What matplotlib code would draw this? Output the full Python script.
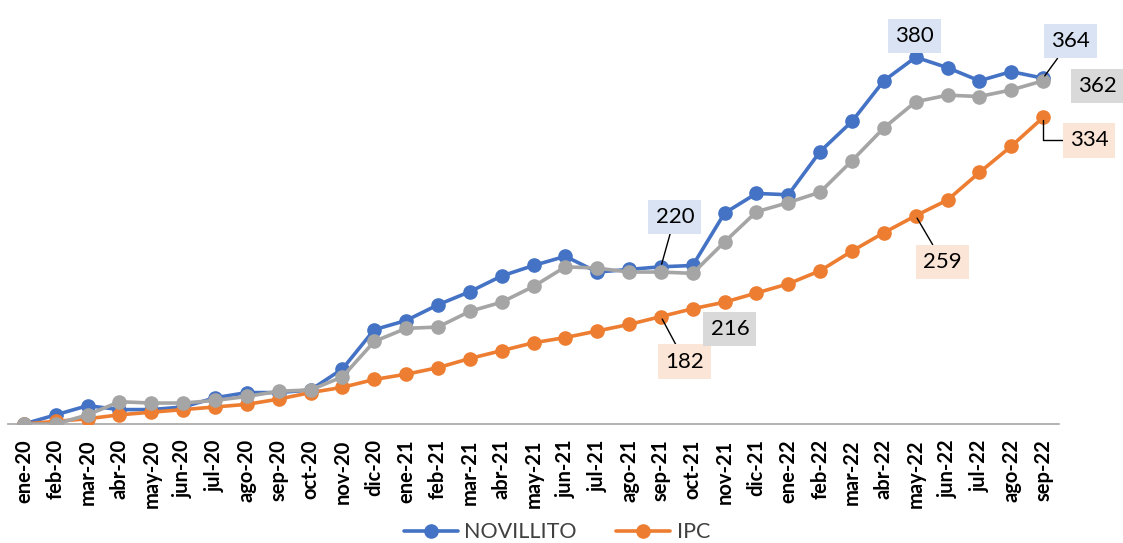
import matplotlib
matplotlib.use("Agg")
import matplotlib.pyplot as plt

plt.rcParams['font.family'] = ['Lato', 'DejaVu Sans']

meses = ["ene-20", "feb-20", "mar-20", "abr-20", "may-20", "jun-20", "jul-20", "ago-20",
         "sep-20", "oct-20", "nov-20", "dic-20", "ene-21", "feb-21", "mar-21", "abr-21",
         "may-21", "jun-21", "jul-21", "ago-21", "sep-21", "oct-21", "nov-21", "dic-21",
         "ene-22", "feb-22", "mar-22", "abr-22", "may-22", "jun-22", "jul-22", "ago-22",
         "sep-22"]

novillito = [100, 107, 114, 111, 111, 113, 120, 124, 124, 126, 142, 172, 179, 191, 201, 213,
             221, 228, 216, 218, 220, 221, 261, 276, 275, 308, 331, 362, 380, 372, 362, 369,
             364]
ipc = [100, 102, 104, 107, 109, 111, 113, 115, 119, 124, 128, 134, 138, 143, 150, 156,
       162, 166, 171, 176, 182, 188, 193, 200, 207, 217, 232, 246, 259, 271, 292, 312,
       334]
gris = [100, 100, 107, 117, 116, 116, 118, 121, 125, 126, 136, 163, 173, 174, 186, 193,
        205, 220, 219, 216, 216, 215, 239, 262, 269, 277, 301, 326, 346, 351, 350, 355,
        362]

C_BLUE = "#4472C4"
C_ORANGE = "#ED7D31"
C_GRAY = "#A5A5A5"

fig = plt.figure(figsize=(11.23, 5.43), dpi=100)
ax = fig.add_axes([8 / 1123, (543 - 424) / 543, (1059 - 8) / 1123, (424 - 31) / 543])

x = list(range(len(meses)))
kw = dict(linewidth=2.6, marker='o', markersize=9.5, solid_capstyle='round',
          solid_joinstyle='round')
l1, = ax.plot(x, novillito, color=C_BLUE, label="NOVILLITO", zorder=3, **kw)
l2, = ax.plot(x, ipc, color=C_ORANGE, label="IPC", zorder=4, **kw)
l3, = ax.plot(x, gris, color=C_GRAY, zorder=5, **kw)

ax.set_xlim(-0.5, len(meses) - 0.5)
ax.set_ylim(100, 400)
for s in ['top', 'right', 'left']:
    ax.spines[s].set_visible(False)
ax.spines['bottom'].set_color("#A6A6A6")
ax.spines['bottom'].set_linewidth(1.2)
ax.spines['bottom'].set_zorder(1)
ax.set_yticks([])
ax.set_xticks(x)
ax.set_xticklabels(meses, rotation=90, fontsize=14.5, fontweight='bold', color='black')
ax.tick_params(axis='x', length=0, pad=11)


def label(series, idx, text_val, dx, dy, bg, leader=False, elbow=False):
    arrow = None
    if leader:
        arrow = dict(arrowstyle='-', color='black', linewidth=1.0, shrinkA=0, shrinkB=2)
        if elbow:
            arrow['connectionstyle'] = 'angle,angleA=0,angleB=90,rad=0'
    ax.annotate(text_val, xy=(idx, series[idx]), xytext=(dx, dy), textcoords='offset pixels',
                ha='center', va='center', fontsize=16, color='black',
                bbox=dict(boxstyle='square,pad=0.32', fc=bg, ec='none'),
                arrowprops=arrow, annotation_clip=False, zorder=10)


BG_B = "#DAE3F3"
BG_O = "#FBE5D6"
BG_G = "#D9D9D9"

label(novillito, 28, "380", -1, 21, BG_B)
label(novillito, 32, "364", 27, 37, BG_B, leader=True)
label(gris, 32, "362", 54, -5, BG_G)
label(ipc, 32, "334", 46, -23, BG_O, leader=True, elbow=True)
label(ipc, 28, "259", 27, -46, BG_O, leader=True)
label(novillito, 20, "220", 14, 50, BG_B, leader=True)
label(ipc, 20, "182", 24, -45, BG_O, leader=True)
label(gris, 20, "216", 69, -57, BG_G)

leg = fig.legend(handles=[l1, l2], loc='center', bbox_to_anchor=(0.496, 0.02), ncol=2,
                 frameon=False, fontsize=15.5, handlelength=2.5, columnspacing=1.85,
                 handletextpad=0.3, borderaxespad=0)
for t in leg.get_texts():
    t.set_color("#404040")

fig.savefig("out.png", dpi=100)
